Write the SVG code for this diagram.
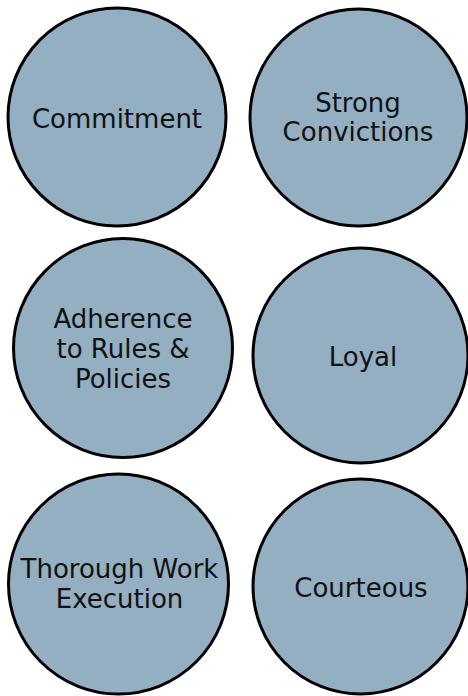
<svg xmlns="http://www.w3.org/2000/svg" width="468" height="696" viewBox="0 0 468 696">
<style>
.c{fill:#94aec2;stroke:#000;stroke-width:3}
.t{font-family:"DejaVu Sans",sans-serif;font-size:26px;fill:#111;text-anchor:middle}
</style>
<rect width="468" height="696" fill="#fff"/>
<g id="connectors"></g>
<g id="n1"><circle class="c" cx="117" cy="117" r="109"/><text class="t" x="117" y="128">Commitment</text></g>
<g id="n2"><circle class="c" cx="358.5" cy="117.5" r="108.5"/><text class="t" x="358" y="112">Strong</text><text class="t" x="358" y="141">Convictions</text></g>
<g id="n3"><circle class="c" cx="123" cy="348" r="109.5"/><text class="t" x="123" y="328">Adherence</text><text class="t" x="123" y="358">to Rules &amp;</text><text class="t" x="123" y="388">Policies</text></g>
<g id="n4"><circle class="c" cx="360.5" cy="355.5" r="107.5"/><text class="t" x="363" y="366">Loyal</text></g>
<g id="n5"><circle class="c" cx="118.5" cy="584" r="110"/><text class="t" x="119.5" y="578">Thorough Work</text><text class="t" x="119.5" y="608">Execution</text></g>
<g id="n6"><circle class="c" cx="360.5" cy="586.5" r="107.5"/><text class="t" x="361" y="597">Courteous</text></g>
</svg>
